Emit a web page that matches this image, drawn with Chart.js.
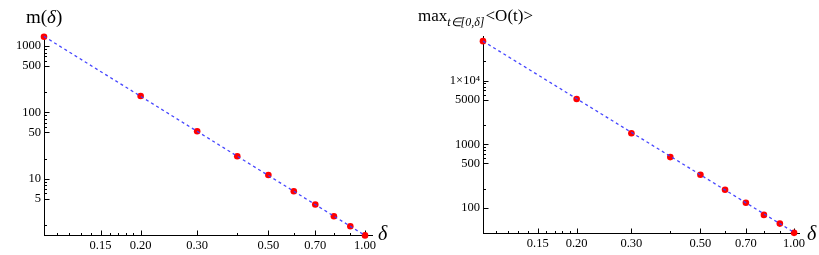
<!DOCTYPE html>
<html>
<head>
<meta charset="utf-8">
<script src="https://cdn.jsdelivr.net/npm/chart.js@4"></script>
<style>
  body { margin: 0; background: #fff; }
  .panel { position: absolute; top: 0; height: 255px; }
  #left { left: 0; width: 410px; }
  #right { left: 410px; width: 409px; }
</style>
</head>
<body>
<div class="panel" id="left"><canvas id="chartM"></canvas></div>
<div class="panel" id="right"><canvas id="chartO"></canvas></div>
<script>
// data
const deltas = [0.1, 0.2, 0.3, 0.4, 0.5, 0.6, 0.7, 0.8, 0.9, 1.0];
const mValues = [1380, 177, 52, 21.8, 11.4, 6.5, 4.1, 2.72, 1.92, 1.40];
const oValues = [41500, 5150, 1490, 630, 333, 194, 121, 78, 57, 40.8];

// dashed fit lines (power law, slope -3), endpoints only
const fitX = [0.1, 1.0];
const mFit = [1400, 1.4];
const oFit = [41500, 41.5];

// ticks
const xMajor = [0.15, 0.2, 0.3, 0.5, 0.7, 1.0];
const xMinor = [0.11, 0.12, 0.13, 0.14, 0.16, 0.17, 0.18, 0.19, 0.4, 0.6, 0.8, 0.9];
const mMajor = [5, 10, 50, 100, 500, 1000];
const mMinor = [2, 6, 7, 8, 9, 20, 60, 70, 80, 90, 200, 600, 700, 800, 900];
const oMajor = [100, 500, 1000, 5000, 10000];
const oMinor = [200, 600, 700, 800, 900, 2000, 6000, 7000, 8000, 9000, 20000];

const SERIF = "'Liberation Serif', 'Times New Roman', serif";

function pairs(xs, ys) {
    return xs.map((x, i) => ({ x: x, y: ys[i] }));
}

function yLabel(v) {
    if (v === 10000) return '1\u00d710\u2074';
    return String(v);
}

// Mathematica style axes: lines through the corner, ticks pointing inward
const mmaAxes = {
    id: 'mmaAxes',
    beforeDatasetsDraw(chart) {
        const ctx = chart.ctx;
        const a = chart.chartArea;
        const xs = chart.scales.x, ys = chart.scales.y;
        const left = Math.round(a.left) + 0.5;
        const bottom = Math.round(a.bottom) + 0.5;
        ctx.save();
        ctx.strokeStyle = '#000';
        ctx.lineWidth = 1;
        ctx.beginPath();
        ctx.moveTo(left, a.top);
        ctx.lineTo(left, bottom);
        ctx.moveTo(a.left, bottom);
        ctx.lineTo(a.right, bottom);
        xs.ticks.forEach(t => {
            const px = Math.round(xs.getPixelForValue(t.value)) + 0.5;
            const len = t.label ? 5 : 2.5;
            ctx.moveTo(px, bottom);
            ctx.lineTo(px, bottom - len);
        });
        ys.ticks.forEach(t => {
            const py = Math.round(ys.getPixelForValue(t.value)) + 0.5;
            const len = t.label ? 5 : 2.5;
            ctx.moveTo(left, py);
            ctx.lineTo(left + len, py);
        });
        ctx.stroke();
        ctx.restore();
    },
    afterDraw(chart, args, opts) {
        const ctx = chart.ctx;
        ctx.save();
        ctx.fillStyle = '#000';
        ctx.textBaseline = 'alphabetic';
        let x = opts.titleX;
        opts.title.forEach(part => {
            ctx.font = part.font;
            ctx.fillText(part.text, x, part.y);
            x += ctx.measureText(part.text).width + (part.gap || 0);
        });
        ctx.font = 'italic 20px ' + SERIF;
        ctx.fillText('\u03b4', opts.deltaX, opts.deltaY);
        ctx.restore();
    }
};

function makeChart(id, values, fit, cfg) {
    return new Chart(document.getElementById(id), {
        data: {
            datasets: [
                {
                    type: 'line',
                    data: pairs(fitX, fit),
                    borderColor: 'rgba(60, 60, 255, 0.95)',
                    borderWidth: 1.3,
                    borderDash: [3, 3],
                    pointRadius: 0,
                    fill: false,
                    clip: false
                },
                {
                    type: 'scatter',
                    data: pairs(deltas, values),
                    backgroundColor: '#ff0000',
                    borderWidth: 0,
                    pointRadius: 3.3,
                    clip: false
                }
            ]
        },
        options: {
            responsive: true,
            maintainAspectRatio: false,
            animation: false,
            layout: { padding: cfg.padding },
            plugins: {
                legend: { display: false },
                tooltip: { enabled: false },
                mmaAxes: cfg.axes
            },
            scales: {
                x: {
                    type: 'logarithmic',
                    min: 0.1,
                    max: cfg.xMax,
                    border: { display: false },
                    grid: { display: false, drawTicks: false },
                    afterBuildTicks: s => { s.ticks = xMajor.concat(xMinor).map(v => ({ value: v })); },
                    afterFit: s => { s.height = cfg.xHeight; },
                    ticks: {
                        autoSkip: false,
                        maxRotation: 0,
                        padding: 3,
                        color: '#000',
                        font: { family: SERIF, size: 12.5 },
                        callback: v => xMajor.includes(v) ? v.toFixed(2) : ''
                    }
                },
                y: {
                    type: 'logarithmic',
                    min: cfg.yMin,
                    max: cfg.yMax,
                    border: { display: false },
                    grid: { display: false, drawTicks: false },
                    afterBuildTicks: s => { s.ticks = cfg.yMajor.concat(cfg.yMinor).map(v => ({ value: v })); },
                    afterFit: s => { s.width = cfg.yWidth; },
                    ticks: {
                        autoSkip: false,
                        padding: 3,
                        color: '#000',
                        font: { family: SERIF, size: 12.5 },
                        callback: v => cfg.yMajor.includes(v) ? yLabel(v) : ''
                    }
                }
            }
        },
        plugins: [mmaAxes]
    });
}

makeChart('chartM', mValues, mFit, {
    padding: { top: 35, right: 37, left: 0, bottom: 0 },
    xMax: 1.059, xHeight: 20,
    yMin: 1.42, yMax: 1470, yWidth: 44,
    yMajor: mMajor, yMinor: mMinor,
    axes: {
        titleX: 26,
        title: [
            { text: 'm(', font: '19px ' + SERIF, y: 23 },
            { text: '\u03b4', font: 'italic 19px ' + SERIF, y: 23 },
            { text: ')', font: '19px ' + SERIF, y: 23 }
        ],
        deltaX: 378, deltaY: 240
    }
});

makeChart('chartO', oValues, oFit, {
    padding: { top: 36, right: 19, left: 0, bottom: 0 },
    xMax: 1.045, xHeight: 22,
    yMin: 40.6, yMax: 50000, yWidth: 73,
    yMajor: oMajor, yMinor: oMinor,
    axes: {
        titleX: 8,
        title: [
            { text: 'max', font: '17px ' + SERIF, y: 21 },
            { text: 't\u2208[0,\u03b4]', font: 'italic 12px ' + SERIF, y: 26, gap: 1 },
            { text: '<O(t)>', font: '17px ' + SERIF, y: 21 }
        ],
        deltaX: 397, deltaY: 240
    }
});
</script>
</body>
</html>
